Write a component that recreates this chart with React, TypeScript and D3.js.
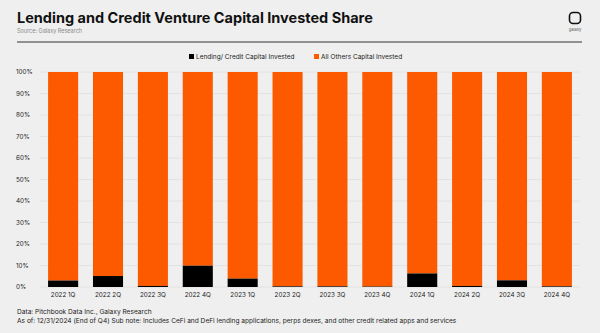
import React from "react";
import * as d3 from "d3";

const categories = ["2022 1Q","2022 2Q","2022 3Q","2022 4Q","2023 1Q","2023 2Q","2023 3Q","2023 4Q","2024 1Q","2024 2Q","2024 3Q","2024 4Q"];
const lendingShare = [3.0, 5.1, 0.5, 9.9, 3.9, 0.3, 0.3, 0.2, 6.3, 0.5, 3.1, 0.3];
const yTicks = [0,10,20,30,40,50,60,70,80,90,100];
const seriesNames = ["Lending/ Credit Capital Invested", "All Others Capital Invested"];

const W = 600, H = 333;
const ORANGE = "#fd5a00";
const FONT = "Inter, 'DejaVu Sans', sans-serif";

export default function App() {
  const x = d3.scaleBand().domain(categories).range([40, 580]).paddingInner(0.33).paddingOuter(0.18);
  const y = d3.scaleLinear().domain([0, 100]).range([287, 72]);
  return (
    <svg width={W} height={H} style={{ position: "absolute", left: 0, top: 0, background: "#efefef" }} fontFamily={FONT}>
      <rect x={0} y={0} width={W} height={H} fill="#efefef" />
      <text x={17} y={23} fontSize={14.5} fontWeight={700} fill="#111">Lending and Credit Venture Capital Invested Share</text>
      <text x={17} y={33} fontSize={5.5} fill="#8a8a8a">Source: Galaxy Research</text>
      <line x1={17} x2={582} y1={42} y2={42} stroke="#333" strokeWidth={1} />
      <rect x={569.5} y={12.5} width={11} height={11} rx={3.5} fill="none" stroke="#111" strokeWidth={1.6} />
      <text x={575} y={31} fontSize={4} fill="#555" textAnchor="middle">galaxy</text>
      <rect x={189} y={54} width={5} height={5} fill="#000" />
      <text x={196} y={59} fontSize={6.5} fill="#222">{seriesNames[0]}</text>
      <rect x={314} y={54} width={5} height={5} fill={ORANGE} />
      <text x={321} y={59} fontSize={6.5} fill="#222">{seriesNames[1]}</text>
      {yTicks.map((t) => (
        <g key={t}>
          <line x1={40} x2={580} y1={y(t)} y2={y(t)} stroke="#e0e0e0" strokeWidth={0.8} />
          <text x={16} y={y(t) + 2.2} fontSize={6.3} fill="#222">{t}%</text>
        </g>
      ))}
      {categories.map((c, i) => {
        const bx = x(c)!;
        const bw = x.bandwidth();
        return (
          <g key={c}>
            <rect x={bx} y={y(100)} width={bw} height={y(lendingShare[i]) - y(100)} fill={ORANGE} />
            <rect x={bx} y={y(lendingShare[i])} width={bw} height={y(0) - y(lendingShare[i])} fill="#000" />
            <text x={bx + bw / 2} y={297} fontSize={6.3} fill="#222" textAnchor="middle">{c}</text>
          </g>
        );
      })}
      <text x={17} y={314} fontSize={6.6} fill="#222">Data: Pitchbook Data Inc., Galaxy Research</text>
      <text x={17} y={323} fontSize={6.6} fill="#222">As of: 12/31/2024 (End of Q4)   Sub note: Includes CeFi and DeFi lending applications, perps dexes, and other credit related apps and services</text>
    </svg>
  );
}
